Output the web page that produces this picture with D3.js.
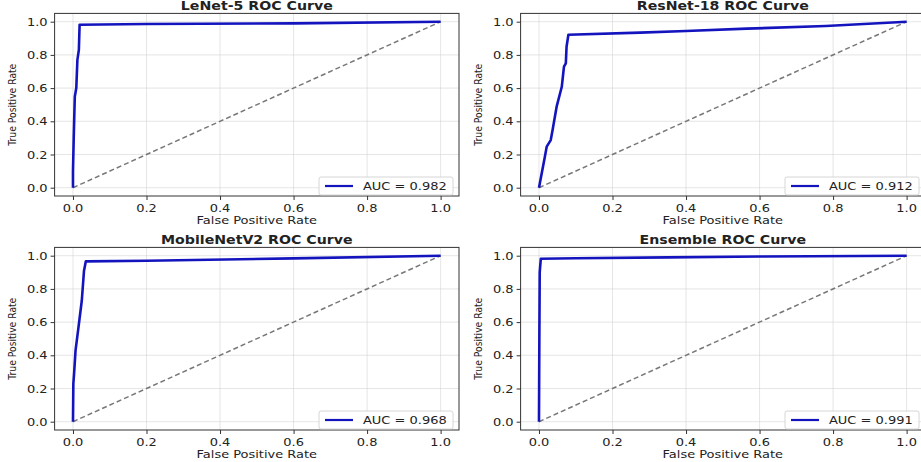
<!DOCTYPE html>
<html>
<head>
<meta charset="utf-8">
<script src="https://cdn.jsdelivr.net/npm/d3@7"></script>
<style>
  body { margin: 0; background: #fff; }
  text { font-family: "DejaVu Sans", sans-serif; fill: #222; }
</style>
</head>
<body>
<svg id="main" width="921" height="462"></svg>
<script>
// values
var titles = ["LeNet-5 ROC Curve", "ResNet-18 ROC Curve", "MobileNetV2 ROC Curve", "Ensemble ROC Curve"];
var aucs = [0.982, 0.912, 0.968, 0.991];
var ticks = [0, 0.2, 0.4, 0.6, 0.8, 1.0];

var lenetFpr = [0, 0.000, 0.002, 0.004, 0.005, 0.009, 0.012, 0.016, 0.018, 0.2, 0.6, 1.0];
var lenetTpr = [0, 0.10, 0.30, 0.47, 0.55, 0.60, 0.77, 0.83, 0.982, 0.986, 0.99, 1.0];

var resnetFpr = [0, 0.016, 0.021, 0.032, 0.037, 0.048, 0.062, 0.068, 0.073, 0.075, 0.080, 0.275, 0.40, 0.565, 0.78, 1.0];
var resnetTpr = [0, 0.187, 0.247, 0.287, 0.347, 0.488, 0.608, 0.729, 0.749, 0.849, 0.921, 0.934, 0.944, 0.958, 0.974, 1.0];

var mobileFpr = [0, 0.001, 0.003, 0.007, 0.015, 0.024, 0.030, 0.035, 0.2, 0.6, 1.0];
var mobileTpr = [0, 0.23, 0.29, 0.43, 0.57, 0.73, 0.91, 0.966, 0.97, 0.984, 1.0];

var ensFpr = [0, 0.001, 0.002, 0.005, 0.1, 0.35, 0.6, 1.0];
var ensTpr = [0, 0.50, 0.90, 0.982, 0.985, 0.99, 0.995, 1.0];

var fprs = [lenetFpr, resnetFpr, mobileFpr, ensFpr];
var tprs = [lenetTpr, resnetTpr, mobileTpr, ensTpr];

var colX = [54.6, 520.6], rowY = [13.4, 247.4];
var pw = 404.4, ph = 182.6;
var sx = 1.18; // the picture is stretched sideways
var blue = "#1414bf";

var svg = d3.select("#main");

function stext(g, x, y, txt, size, anchor, weight) {
  return g.append("text")
    .attr("transform", "translate(" + x + "," + y + ") scale(" + sx + ",1)")
    .attr("text-anchor", anchor)
    .style("font-size", size + "px")
    .style("font-weight", weight || "normal")
    .text(txt);
}

titles.forEach(function(t, i) {
  var ox = colX[i % 2], oy = rowY[Math.floor(i / 2)];
  var g = svg.append("g").attr("transform", "translate(" + ox + "," + oy + ")");

  var x = d3.scaleLinear().domain([-0.05, 1.05]).range([0, pw]);
  var y = d3.scaleLinear().domain([-0.05, 1.05]).range([ph, 0]);

  // grid
  g.append("g").selectAll("line").data(ticks).enter().append("line")
    .attr("x1", d => x(d)).attr("x2", d => x(d))
    .attr("y1", 0).attr("y2", ph)
    .attr("stroke", "#ccc").attr("stroke-width", 0.8).attr("opacity", 0.6);
  g.append("g").selectAll("line").data(ticks).enter().append("line")
    .attr("y1", d => y(d)).attr("y2", d => y(d))
    .attr("x1", 0).attr("x2", pw)
    .attr("stroke", "#ccc").attr("stroke-width", 0.8).attr("opacity", 0.6);

  // diagonal
  var line = d3.line().x(d => x(d[0])).y(d => y(d[1]));
  g.append("path").datum([[0, 0], [1, 1]])
    .attr("d", line)
    .attr("fill", "none").attr("stroke", "#777")
    .attr("stroke-width", 1.5).attr("stroke-dasharray", "5,3");

  // roc curve
  var pts = fprs[i].map((f, k) => [f, tprs[i][k]]);
  g.append("path").datum(pts)
    .attr("d", line)
    .attr("fill", "none").attr("stroke", blue)
    .attr("stroke-width", 2.6).attr("stroke-linejoin", "round");

  // axes
  var xa = g.append("g").attr("transform", "translate(0," + ph + ")")
    .call(d3.axisBottom(x).tickValues(ticks).tickSize(4).tickFormat(d3.format(".1f")));
  var ya = g.append("g")
    .call(d3.axisLeft(y).tickValues(ticks).tickSize(4).tickFormat(d3.format(".1f")));
  [xa, ya].forEach(function(a) {
    a.select(".domain").remove();
    a.selectAll(".tick line").attr("stroke", "#333");
    a.selectAll(".tick text").remove();
  });
  ticks.forEach(function(v) {
    stext(g, x(v), ph + 16, d3.format(".1f")(v), 11, "middle");
    stext(g, -7, y(v) + 4, d3.format(".1f")(v), 11, "end");
  });

  g.append("rect").attr("width", pw).attr("height", ph)
    .attr("fill", "none").attr("stroke", "#333").attr("stroke-width", 1);

  // titles and labels
  stext(g, pw / 2, -3.2, t, 12, "middle", "bold");
  g.append("text")
    .attr("transform", "translate(-39," + (ph / 2) + ") rotate(-90)")
    .attr("text-anchor", "middle")
    .attr("textLength", 82).attr("lengthAdjust", "spacingAndGlyphs")
    .style("font-size", "11px")
    .text("True Positive Rate");
  stext(g, pw / 2, ph + 28, "False Positive Rate", 11, "middle");

  // legend
  var lg = g.append("g").attr("transform", "translate(" + (pw - 140) + "," + (ph - 19) + ")");
  lg.append("rect").attr("width", 134).attr("height", 18).attr("rx", 2)
    .attr("fill", "#fff").attr("fill-opacity", 0.85)
    .attr("stroke", "#ccc").attr("stroke-width", 0.8);
  lg.append("line").attr("x1", 6).attr("x2", 34).attr("y1", 9).attr("y2", 9)
    .attr("stroke", blue).attr("stroke-width", 2.2);
  stext(lg, 44, 13, "AUC = " + d3.format(".3f")(aucs[i]), 11, "start");
});
</script>
</body>
</html>
